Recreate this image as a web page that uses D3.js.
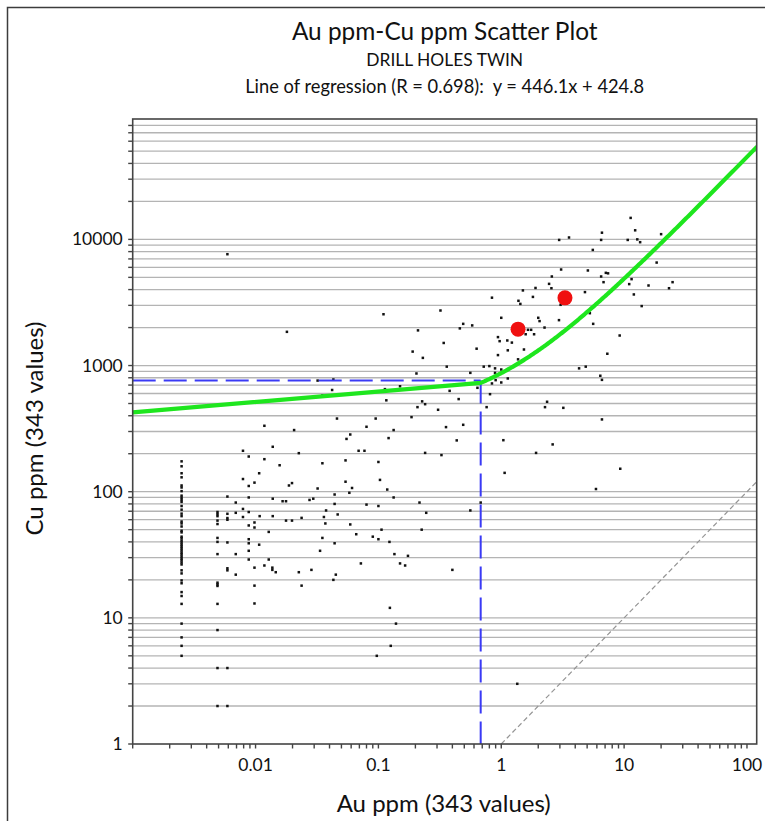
<!DOCTYPE html>
<html>
<head>
<meta charset="utf-8">
<script src="https://cdn.jsdelivr.net/npm/d3@7"></script>
<style>
  html, body { margin: 0; padding: 0; background: #fff; }
  svg { display: block; font-family: Lato, "Open Sans", sans-serif; }
  text { white-space: pre; }
</style>
</head>
<body>
<svg id="chart" width="765" height="821"></svg>
<script>
// ---- Data -------------------------------------------------------------
// Samples at the gold detection limit (Au = 0.0025 ppm)
const cuAtAu0025 = [174,159,140,130,112,108,101,93,89.5,86,83,77,72,67,64,58,56,53,49,47.6,44,42.7,41,39.6,38.2,36.9,35.6,34.3,33,31.9,30.7,29.6,28.6,27.5,26.5,23.8,22.5,19.8,18.8,16,14.9,12.9,9,7,6,5];
// Samples at Au = 0.0049 ppm
const cuAtAu0049 = [69,66.4,64,59,55.4,43,40,32,19,18.4,17.9,12.9,8,4,2];
// Samples at Au = 0.0059 ppm
const cuAtAu0059 = [7630,91.5,66.8,61.8,59.9,39.6,24.7,23.8,4,2];

// Remaining samples: Au ppm and Cu ppm, paired by index
const auPpm = [
  0.11,0.018,0.19,
  11.3,12.3,20,6.6,6.5,10.7,12.8,13.5,2.96,3.56,5.56,18.4,3.07,5.07,7.1,7.4,6.5,2.58,11.5,6.8,2.45,24.8,11,15.8,23.2,2.56,1.9,1.5,4.8,12,1.81,0.84,1.38,1.43,3.04,13.9,0.32,5.26,1.0,2.0,2.05,2.95,5.6,0.49,0.46,0.58,0.21,2.25,1.65,1.75,1.85,1.58,0.94,0.97,1.12,1.22,0.34,0.63,1.13,1.53,7.3,9.2,0.94,0.23,1.37,0.36,0.72,0.80,0.89,1.0,4.3,4.87,
  0.032,0.043,0.042,0.035,0.113,0.15,0.116,0.186,0.046,0.095,0.0118,0.0206,0.08,0.133,0.121,0.059,0.055,0.0079,0.0138,0.0225,0.069,0.077,0.0088,0.0118,0.035,0.054,0.1,0.0157,0.0107,0.0079,0.0098,0.0088,0.0198,0.0187,0.054,0.103,0.032,0.061,0.058,0.118,0.0088,0.0138,0.0166,0.0177,0.0275,0.0295,0.044,0.133,0.08,0.1,0.044,0.0375,0.0466,0.036,0.037,0.059,0.0237,0.0177,0.0198,0.0138,0.0108,0.0079,0.0079,0.0069,0.0069,0.0088,0.0098,0.0098,0.0128,0.0088,0.035,0.066,0.09,0.1,0.123,0.106,0.0088,
  0.0088,0.0088,0.0088,0.0107,0.0069,0.0069,0.0098,0.0118,0.0128,0.0137,0.0137,0.0146,0.0098,0.0098,0.0225,0.0237,0.0285,0.0335,0.044,0.045,0.043,0.072,0.135,0.15,0.165,0.174,0.124,0.139,0.126,0.097,
  0.204,0.56,0.89,0.9,0.84,1.0,1.13,0.51,0.64,0.38,0.81,0.45,0.227,0.24,0.208,0.306,0.76,2.36,2.27,3.2,6.4,6.6,6.6,0.355,0.49,0.434,1.04,2.62,0.24,0.326,1.92,1.065,9.3,5.9,0.216,0.245,0.56,0.68,0.225,
  0.40,1.35
];
const cuPpm = [
  2550,1850,1290,
  14800,11800,11000,11300,9900,9900,10000,9500,9900,10350,8250,6550,5770,5670,5430,5380,5080,5080,4840,4580,4440,4580,4420,4310,4100,4100,4120,3940,3820,3660,3500,3450,3260,3080,3030,2960,2730,2600,2390,2390,2250,2290,2140,2140,1970,2080,1900,2000,1920,1920,1770,1770,1680,1560,1580,1520,1510,1360,1320,1340,1240,1730,1210,1150,1120,980,980,990,950,930,950,980,
  760,775,640,580,650,685,530,390,380,380,333,308,327,308,266,284,262,211,227,202,211,211,190,181,168,177,172,162,140,126,118,111,117,112,120,124,106,107,98,104,90,88,84,84,86,88,95,90,79,77,80,71,66,63,56,55,62,59,59,64,64,73,63,68,82,54,57,52,48,42,43,46,44,42,40,50,69,
  39,34,29,38,32,22,25,26,29,25,24,23,18,13,23,18,24,34,39,22,20,27,32,27,26,31,12,9,6,5,
  865,875,875,766,721,734,790,708,666,630,593,542,520,494,468,446,468,516,468,462,830,770,374,325,339,255,256,237,203,195,203,141,152,105,82,68,71,82,50,
  24,3
];

// Group averages (red markers)
const meanAu = [1.37, 3.3];
const meanCu = [1942, 3440];

// Least-squares fit quoted in the header
const slope = 446.1, intercept = 424.8, rValue = 0.698;
// First evaluation point of the fit above the axis minimum (Au ppm)
const fitFirstStep = 0.68;
// Cross-hair read-out on the fitted line
const cursorAu = 0.68, cursorCu = 760;

const xTickLabels = [0.01, 0.1, 1, 10, 100];
const yTickLabels = [1, 10, 100, 1000, 10000];

// ---- Build point list --------------------------------------------------
const points = [];
cuAtAu0025.forEach(c => points.push({au: 0.0025, cu: c}));
cuAtAu0049.forEach(c => points.push({au: 0.0049, cu: c}));
cuAtAu0059.forEach(c => points.push({au: 0.0059, cu: c}));
auPpm.forEach((a, i) => points.push({au: a, cu: cuPpm[i]}));

// ---- Layout -----------------------------------------------------------
const svg = d3.select("#chart");
const plot = {left: 132.7, right: 756.7, top: 119, bottom: 744};

const x = d3.scaleLog().domain([0.001, 120]).range([plot.left, plot.right]);
const y = d3.scaleLog().domain([1, 90000]).range([plot.bottom, plot.top]);

// outer frame
svg.append("rect")
  .attr("x", 7.5).attr("y", 7.5).attr("width", 800).attr("height", 860)
  .attr("fill", "none").attr("stroke", "#3c3c3c").attr("stroke-width", 1.5);

// titles
const cx = (plot.left + plot.right) / 2;
svg.append("text").attr("x", cx).attr("y", 40).attr("text-anchor", "middle")
  .attr("font-size", 24.4).attr("fill", "#111").text("Au ppm-Cu ppm Scatter Plot");
svg.append("text").attr("x", cx).attr("y", 66).attr("text-anchor", "middle")
  .attr("font-size", 17.4).attr("fill", "#111").text("DRILL HOLES TWIN");
svg.append("text").attr("x", cx).attr("y", 93).attr("text-anchor", "middle")
  .attr("font-size", 18.3).attr("fill", "#111")
  .text(`Line of regression (R = ${rValue}):  y = ${slope}x + ${intercept}`);

// minor/major log ticks
const yTicks = [];
for (let e = 0; e <= 4; e++) for (let k = 1; k <= 9; k++) yTicks.push(k * Math.pow(10, e));
const xTicks = [];
for (let e = -3; e <= 2; e++) for (let k = 1; k <= 9; k++) {
  const v = k * Math.pow(10, e);
  if (v <= 120) xTicks.push(+v.toPrecision(3));
}

// horizontal grid
svg.append("g").selectAll("line")
  .data(yTicks.filter(v => v > 1 && v < 90000))
  .join("line")
  .attr("x1", plot.left).attr("x2", plot.right)
  .attr("y1", d => y(d)).attr("y2", d => y(d))
  .attr("stroke", "#b4b4b4").attr("stroke-width", 1.3);

// clip region for data
svg.append("clipPath").attr("id", "plotClip").append("rect")
  .attr("x", plot.left).attr("y", plot.top)
  .attr("width", plot.right - plot.left).attr("height", plot.bottom - plot.top);

const dataG = svg.append("g").attr("clip-path", "url(#plotClip)");

// 1:1 reference line
dataG.append("line")
  .attr("x1", x(1)).attr("y1", y(1)).attr("x2", x(120)).attr("y2", y(120))
  .attr("stroke", "#959595").attr("stroke-width", 1.2).attr("stroke-dasharray", "5,3");

// scatter
dataG.append("g").selectAll("rect")
  .data(points)
  .join("rect")
  .attr("x", d => x(d.au) - 1.25).attr("y", d => y(d.cu) - 1.25)
  .attr("width", 2.5).attr("height", 2.5)
  .attr("fill", "#111");

// cross-hair
dataG.append("path")
  .attr("d", `M${plot.left},${y(cursorCu)}H${x(cursorAu)}`)
  .attr("stroke", "#3a3af5").attr("stroke-width", 2).attr("fill", "none")
  .attr("stroke-dasharray", "23,8");
dataG.append("path")
  .attr("d", `M${x(cursorAu)},${y(cursorCu)}V${plot.bottom}`)
  .attr("stroke", "#3a3af5").attr("stroke-width", 2).attr("fill", "none")
  .attr("stroke-dasharray", "23,8");

// regression line: straight chord from the axis minimum to the first grid step,
// then finely evaluated up to the right edge
const fitX = [0.001].concat(
  d3.range(Math.log10(fitFirstStep), Math.log10(120) + 0.005, 0.01).map(e => Math.pow(10, e))
);
dataG.append("path")
  .datum(fitX)
  .attr("d", d3.line().x(v => x(v)).y(v => y(slope * v + intercept)))
  .attr("fill", "none").attr("stroke", "#1ee61e").attr("stroke-width", 4.2)
  .attr("stroke-linejoin", "round");

// group means
dataG.append("g").selectAll("circle")
  .data(meanAu.map((a, i) => ({au: a, cu: meanCu[i]})))
  .join("circle")
  .attr("cx", d => x(d.au)).attr("cy", d => y(d.cu)).attr("r", 7.5)
  .attr("fill", "#f01010");

// plot frame
svg.append("rect")
  .attr("x", plot.left).attr("y", plot.top)
  .attr("width", plot.right - plot.left).attr("height", plot.bottom - plot.top)
  .attr("fill", "none").attr("stroke", "#444").attr("stroke-width", 1.6);

// ticks
svg.append("g").selectAll("line")
  .data(yTicks.filter(v => v < 90000))
  .join("line")
  .attr("x1", plot.left - 4.5).attr("x2", plot.left)
  .attr("y1", d => y(d)).attr("y2", d => y(d))
  .attr("stroke", "#444").attr("stroke-width", 1.4);
svg.append("g").selectAll("line")
  .data(xTicks)
  .join("line")
  .attr("x1", d => x(d)).attr("x2", d => x(d))
  .attr("y1", plot.bottom).attr("y2", plot.bottom + 4.5)
  .attr("stroke", "#444").attr("stroke-width", 1.4);

// tick labels
svg.append("g").selectAll("text")
  .data(yTickLabels)
  .join("text")
  .attr("x", plot.left - 10).attr("y", d => y(d) + 6)
  .attr("text-anchor", "end").attr("font-size", 17.5).attr("fill", "#111")
  .text(d => d);
svg.append("g").selectAll("text")
  .data(xTickLabels)
  .join("text")
  .attr("x", d => x(d)).attr("y", plot.bottom + 27)
  .attr("text-anchor", "middle").attr("font-size", 17.5).attr("fill", "#111")
  .text(d => d);

// axis titles
svg.append("text").attr("x", cx - 1).attr("y", 812).attr("text-anchor", "middle")
  .attr("font-size", 24).attr("fill", "#111").text("Au ppm (343 values)");
svg.append("text")
  .attr("transform", `translate(43,${(plot.top + plot.bottom) / 2 - 3}) rotate(-90)`)
  .attr("text-anchor", "middle").attr("font-size", 24).attr("fill", "#111")
  .text("Cu ppm (343 values)");
</script>
</body>
</html>
